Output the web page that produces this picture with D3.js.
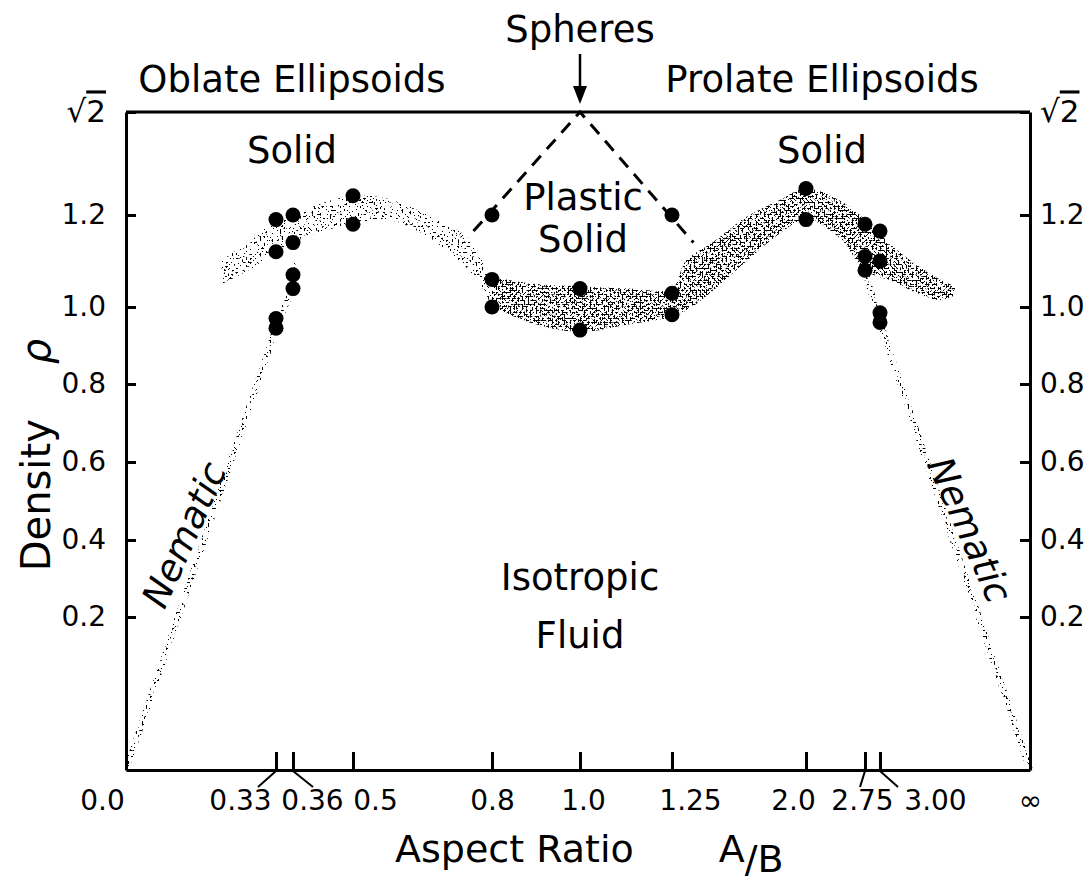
<!DOCTYPE html>
<html>
<head>
<meta charset="utf-8">
<script src="https://cdn.jsdelivr.net/npm/d3@7"></script>
<style>
body { margin: 0; background: #fff; }
svg text { font-family: "DejaVu Sans", sans-serif; fill: #000; }
.axis path, .axis line { stroke: #000; stroke-width: 3; }
.axis text { font-size: 28px; font-family: "DejaVu Sans", sans-serif; }
.big { font-size: 37px; }
</style>
</head>
<body>
<script>
var xTickValues = [0, 0.33, 0.36, 0.5, 0.8, 1.0, 1.25, 2.0, 2.75, 3.0, Infinity];
var xTickLabels = ["0.0", "0.33", "0.36", "0.5", "0.8", "1.0", "1.25", "2.0", "2.75", "3.00", "\u221e"];
var yTickValues = [0.2, 0.4, 0.6, 0.8, 1.0, 1.2, Math.SQRT2];
var yTickLabels = ["0.2", "0.4", "0.6", "0.8", "1.0", "1.2", "\u221a2"];

// simulated state points (aspect ratio A/B, density)
var pointAspect = [0.33, 0.33, 0.33, 0.33, 0.36, 0.36, 0.36, 0.36, 0.5, 0.5, 0.8, 0.8, 0.8, 1.0, 1.0,
                   1.25, 1.25, 1.25, 2.0, 2.0, 2.75, 2.75, 2.75, 3.0, 3.0, 3.0, 3.0];
var pointDensity = [1.19, 1.12, 0.97, 0.945, 1.20, 1.14, 1.07, 1.04, 1.24, 1.18, 1.20, 1.06, 1.00, 1.04, 0.94,
                    1.20, 1.03, 0.98, 1.255, 1.19, 1.18, 1.11, 1.08, 1.165, 1.10, 0.985, 0.96];

// oblate solid - fluid coexistence band
var oblateAspect = [0.21, 0.27, 0.33, 0.36, 0.43, 0.5, 0.57, 0.64, 0.70, 0.75, 0.78, 0.80];
var oblateLow = [1.05, 1.08, 1.12, 1.14, 1.165, 1.18, 1.19, 1.165, 1.125, 1.08, 1.04, 1.00];
var oblateHigh = [1.105, 1.14, 1.19, 1.20, 1.225, 1.24, 1.235, 1.21, 1.18, 1.15, 1.10, 1.065];

// plastic solid and prolate solid - fluid coexistence band
var prolateAspect = [0.8, 0.9, 1.0, 1.12, 1.25, 1.3, 1.41, 1.58, 1.79, 2.0, 2.37, 2.75, 3.3, 4.0, 5.0, 6.0];
var prolateLow = [1.0, 0.955, 0.935, 0.955, 0.975, 0.99, 1.035, 1.10, 1.16, 1.19, 1.15, 1.08, 1.055, 1.03, 1.015, 1.025];
var prolateHigh = [1.065, 1.05, 1.045, 1.04, 1.04, 1.10, 1.14, 1.196, 1.231, 1.255, 1.23, 1.19, 1.13, 1.09, 1.06, 1.045];

// isotropic - nematic coexistence
var nematicLeftAspect = [0, 0.33, 0.345, 0.36, 0.365];
var nematicLeftDensity = [0, 0.945, 1.0, 1.04, 1.10];
var nematicRightAspect = [2.75, 2.85, 3.0, 3.0, Infinity];
var nematicRightDensity = [1.08, 1.03, 0.985, 0.96, 0];

// plastic solid boundary
var plasticAspect = [0.76, 1.0, 1.33];
var plasticDensity = [1.165, Math.SQRT2, 1.14];

var svgContainer,
    svgWidth = 1088,
    svgHeight = 884,
    frame = { left: 126, right: 1030, top: 112, bottom: 770 },
    xTickPixels = [126, 276, 293, 353, 492, 580, 672, 806, 865, 880, 1030],
    yTickPixels = [770, 617, 540, 462, 384, 307, 215, 112],
    xLabelShift = [-24, -36, 19, 22, 0, 3, 18, -13, -3, 55, 0],
    leaderShift = { 1: -18, 2: 20, 8: -5, 9: 18 },
    xScale, yScale;

// A/B below 1 kept as is, above 1 folded so that infinity lands on 2
function shape(r) {
    return r <= 1 ? r : 2 - 1 / r;
}

function init() {
    svgContainer = d3.select("body").append("svg")
        .attr("width", svgWidth)
        .attr("height", svgHeight);
    xScale = d3.scaleLinear().domain(xTickValues.map(shape)).range(xTickPixels);
    yScale = d3.scaleLinear().domain([0].concat(yTickValues)).range(yTickPixels);

    drawFilters();
    drawBand(oblateAspect, oblateLow, oblateHigh, "stipple-light");
    drawBand(prolateAspect, prolateLow, prolateHigh, "stipple-dense");
    drawNematic(nematicLeftAspect, nematicLeftDensity);
    drawNematic(nematicRightAspect, nematicRightDensity);
    drawPlasticBoundary();
    drawPoints();
    drawAxes();
    drawLabels();
}

function drawFilters() {
    var defs = svgContainer.append("defs");
    // [id, grey level under which the noise becomes a speck]
    [["stipple-light", 0.37], ["stipple-dense", 0.5]].forEach(function (f) {
        var filter = defs.append("filter")
            .attr("id", f[0])
            .attr("filterUnits", "userSpaceOnUse")
            .attr("x", 0).attr("y", 0)
            .attr("width", svgWidth).attr("height", svgHeight)
            .attr("color-interpolation-filters", "sRGB");
        filter.append("feTurbulence")
            .attr("type", "fractalNoise")
            .attr("baseFrequency", 0.5)
            .attr("numOctaves", 1)
            .attr("seed", 5)
            .attr("result", "noise");
        filter.append("feColorMatrix")
            .attr("in", "noise")
            .attr("type", "matrix")
            .attr("values", "0 0 0 0 0  0 0 0 0 0  0 0 0 0 0  -30 0 0 0 " + (30 * f[1]))
            .attr("result", "specks");
        filter.append("feComposite")
            .attr("in", "specks")
            .attr("in2", "SourceAlpha")
            .attr("operator", "in");
    });
}

function drawBand(aspect, low, high, filterId) {
    var rows = aspect.map(function (a, i) { return { x: a, lo: low[i], hi: high[i] }; });
    var area = d3.area()
        .x(function (d) { return xScale(shape(d.x)); })
        .y0(function (d) { return yScale(d.lo); })
        .y1(function (d) { return yScale(d.hi); })
        .curve(d3.curveCatmullRom);
    svgContainer.append("path")
        .datum(rows)
        .attr("d", area)
        .attr("fill", "#000")
        .attr("filter", "url(#" + filterId + ")");
}

function drawNematic(aspect, density) {
    var rows = aspect.map(function (a, i) { return { x: a, y: density[i] }; });
    var line = d3.line()
        .x(function (d) { return xScale(shape(d.x)); })
        .y(function (d) { return yScale(d.y); });
    svgContainer.append("path")
        .datum(rows)
        .attr("d", line)
        .attr("fill", "none")
        .attr("stroke", "#000")
        .attr("stroke-width", 6)
        .attr("filter", "url(#stipple-light)");
}

function drawPlasticBoundary() {
    var rows = plasticAspect.map(function (a, i) { return { x: a, y: plasticDensity[i] }; });
    var line = d3.line()
        .x(function (d) { return xScale(shape(d.x)); })
        .y(function (d) { return yScale(d.y); });
    svgContainer.append("path")
        .datum(rows)
        .attr("d", line)
        .attr("fill", "none")
        .attr("stroke", "#000")
        .attr("stroke-width", 3)
        .attr("stroke-dasharray", "13 9");
}

function drawPoints() {
    pointAspect.forEach(function (a, i) {
        svgContainer.append("circle")
            .attr("cx", xScale(shape(a)))
            .attr("cy", yScale(pointDensity[i]))
            .attr("r", 7.5)
            .style("fill", "#000");
    });
}

// put a bar over the 2 of the square root label
function markRoot(group) {
    group.selectAll(".tick text")
        .filter(function (d) { return d === Math.SQRT2; })
        .each(function () {
            var t = d3.select(this).text("");
            t.append("tspan").text("\u221a");
            t.append("tspan").style("text-decoration", "overline").text("2");
        })
        .style("font-size", "31px");
}

function drawAxes() {
    var xAxis = d3.axisBottom(xScale)
        .tickValues(xTickValues.map(shape))
        .tickSizeInner(-18)
        .tickSizeOuter(0)
        .tickPadding(20)
        .tickFormat(function (d, i) { return xTickLabels[i]; });
    var xAxisGroup = svgContainer.append("g")
        .attr("class", "axis")
        .attr("transform", "translate(0," + frame.bottom + ")")
        .call(xAxis);
    xAxisGroup.selectAll(".tick text")
        .attr("dx", function (d, i) { return xLabelShift[i]; });
    // little leader lines for the crowded labels
    Object.keys(leaderShift).forEach(function (k) {
        var px = xScale(shape(xTickValues[+k]));
        svgContainer.append("line")
            .attr("x1", px).attr("y1", frame.bottom + 1)
            .attr("x2", px + leaderShift[k]).attr("y2", frame.bottom + 17)
            .attr("stroke", "#000").attr("stroke-width", 2);
    });

    var yLeft = d3.axisLeft(yScale)
        .tickValues(yTickValues)
        .tickSizeInner(-10)
        .tickSizeOuter(0)
        .tickPadding(20)
        .tickFormat(function (d, i) { return yTickLabels[i]; });
    var yRight = d3.axisRight(yScale)
        .tickValues(yTickValues)
        .tickSizeInner(-10)
        .tickSizeOuter(0)
        .tickPadding(10)
        .tickFormat(function (d, i) { return yTickLabels[i]; });
    var leftGroup = svgContainer.append("g")
        .attr("class", "axis")
        .attr("transform", "translate(" + frame.left + ",0)")
        .call(yLeft);
    var rightGroup = svgContainer.append("g")
        .attr("class", "axis")
        .attr("transform", "translate(" + frame.right + ",0)")
        .call(yRight);
    markRoot(leftGroup);
    markRoot(rightGroup);

    // top edge of the box
    svgContainer.append("line")
        .attr("x1", frame.left).attr("x2", frame.right)
        .attr("y1", frame.top).attr("y2", frame.top)
        .attr("stroke", "#000").attr("stroke-width", 3);
}

function addText(txt, x, y) {
    return svgContainer.append("text")
        .attr("class", "big")
        .attr("x", x).attr("y", y)
        .attr("text-anchor", "middle")
        .text(txt);
}

function drawLabels() {
    var cx = xScale(shape(1.0));
    addText("Spheres", cx, 42);
    addText("Oblate Ellipsoids", 292, 92);
    addText("Prolate Ellipsoids", 822, 92);
    addText("Solid", 292, 163);
    addText("Solid", 822, 163);
    addText("Plastic", cx + 3, 210);
    addText("Solid", cx + 3, 252);
    addText("Isotropic", cx, 590);
    addText("Fluid", cx, 648);

    // arrow from "Spheres" down to the box
    svgContainer.append("line")
        .attr("x1", cx).attr("x2", cx)
        .attr("y1", 54).attr("y2", 92)
        .attr("stroke", "#000").attr("stroke-width", 2.5);
    svgContainer.append("path")
        .attr("d", "M" + (cx - 7) + ",86L" + (cx + 7) + ",86L" + cx + ",104Z")
        .attr("fill", "#000");

    svgContainer.append("text")
        .attr("class", "big")
        .attr("transform", "translate(196,540) rotate(-66)")
        .attr("text-anchor", "middle")
        .style("font-style", "italic")
        .text("Nematic");
    svgContainer.append("text")
        .attr("class", "big")
        .attr("transform", "translate(958,535) rotate(66)")
        .attr("text-anchor", "middle")
        .style("font-style", "italic")
        .text("Nematic");

    var yTitle = svgContainer.append("text")
        .attr("class", "big")
        .attr("transform", "translate(50,455) rotate(-90)")
        .attr("text-anchor", "middle")
        .style("font-size", "40px");
    yTitle.append("tspan").text("Density");
    yTitle.append("tspan").attr("dx", 55).style("font-style", "italic").text("\u03c1");

    var xTitle = svgContainer.append("text")
        .attr("class", "big")
        .attr("x", 395).attr("y", 862)
        .style("font-size", "38px");
    xTitle.append("tspan").text("Aspect Ratio");
    xTitle.append("tspan").attr("dx", 85).text("A");
    xTitle.append("tspan").attr("dy", 10).text("/B");
}

init();
</script>
</body>
</html>
